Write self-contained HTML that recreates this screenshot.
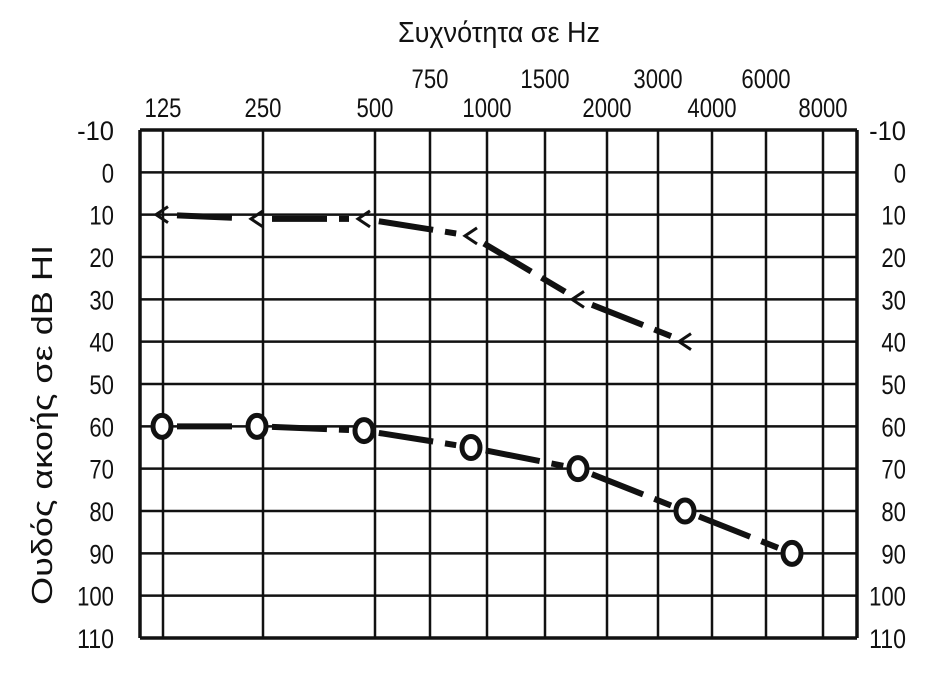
<!DOCTYPE html>
<html><head><meta charset="utf-8"><style>
body{margin:0;background:#fff}
svg text{font-family:"Liberation Sans","DejaVu Sans Condensed",sans-serif;fill:#111}
</style></head><body>
<svg id="chart" width="929" height="668" xmlns="http://www.w3.org/2000/svg">
<text x="398" y="42" font-size="29" textLength="202" lengthAdjust="spacingAndGlyphs">Συχνότητα σε Hz</text>
<text transform="translate(52,605) rotate(-90)" font-size="29" textLength="360" lengthAdjust="spacingAndGlyphs">Ουδός ακοής σε dB HI</text>
<g id="grid"></g><g id="labels"></g><g id="series"></g>
</svg>
<script>
const gridX=[140,163,263,375,430,487,545,607,658,712,766,823,857];
const freqLabelsMain=["125","250","500","1000","2000","4000","8000"];
const freqLabelsMainX=[163,263,375,487,607,712,823];
const freqLabelsMid=["750","1500","3000","6000"];
const freqLabelsMidX=[430,545,658,766];
const dbTicks=[-10,0,10,20,30,40,50,60,70,80,90,100,110];
const freqs=[125,250,500,1000,2000,4000,8000];
const rightEar=[10,11,11,15,30,40];
const leftEar=[60,60,61,65,70,80,90];
const NS="http://www.w3.org/2000/svg";
const y=v=>130+(v+10)*(508/120);
const xm=f=>150+107*Math.log2(f/125);
function mk(t,a,p){const e=document.createElementNS(NS,t);for(const k in a)e.setAttribute(k,a[k]);p.appendChild(e);return e;}
const g=document.getElementById('grid'),L=document.getElementById('labels'),S=document.getElementById('series');
function txt(s,x,yy,anchor,name){const t=mk('text',{x:x,y:yy,'font-size':27,'text-anchor':anchor,textLength:s.length*12.3,lengthAdjust:'spacingAndGlyphs'},L);t.textContent=s;

}
gridX.forEach(x=>{const l=mk('line',{x1:x,x2:x,y1:130,y2:638,stroke:'#111','stroke-width':(x==140||x==857)?3.5:2.5},g);

});
dbTicks.forEach(v=>{const l=mk('line',{x1:140,x2:857,y1:y(v),y2:y(v),stroke:'#111','stroke-width':(v==-10||v==110)?3.5:2.5},g);


txt(String(v),114,y(v)+10,'end','y-tick-label');
txt(String(v),906,y(v)+10,'end','y-tick-label-right');});
freqLabelsMain.forEach((s,i)=>txt(s,freqLabelsMainX[i],117,'middle','x-tick-label'));
freqLabelsMid.forEach((s,i)=>txt(s,freqLabelsMidX[i],88,'middle','x-tick-label-mid'));
function series(vals,kind){
 const pts=vals.map((v,i)=>[xm(freqs[i])+(i==0?12:0),y(v)]);
 for(let i=0;i<pts.length-1;i++){const[a,b]=[pts[i],pts[i+1]];const dx=b[0]-a[0],dy=b[1]-a[1],d=Math.hypot(dx,dy),s=15/d;
  const l=mk('line',{x1:a[0]+dx*s,y1:a[1]+dy*s,x2:b[0]-dx*s,y2:b[1]-dy*s,stroke:'#111','stroke-width':6,'stroke-dasharray':'55 12'},S);
  
  }
 pts.forEach(p=>{let m;
  if(kind=='o'){m=mk('ellipse',{cx:p[0],cy:p[1],rx:9,ry:11,fill:'#fff',stroke:'#111','stroke-width':5},S);}
  else{m=mk('polyline',{points:`${p[0]+6},${p[1]-8} ${p[0]-6},${p[1]} ${p[0]+6},${p[1]+8}`,fill:'none',stroke:'#111','stroke-width':3},S);}
  
  });
}
series(rightEar,'<');series(leftEar,'o');
</script>
</body></html>
